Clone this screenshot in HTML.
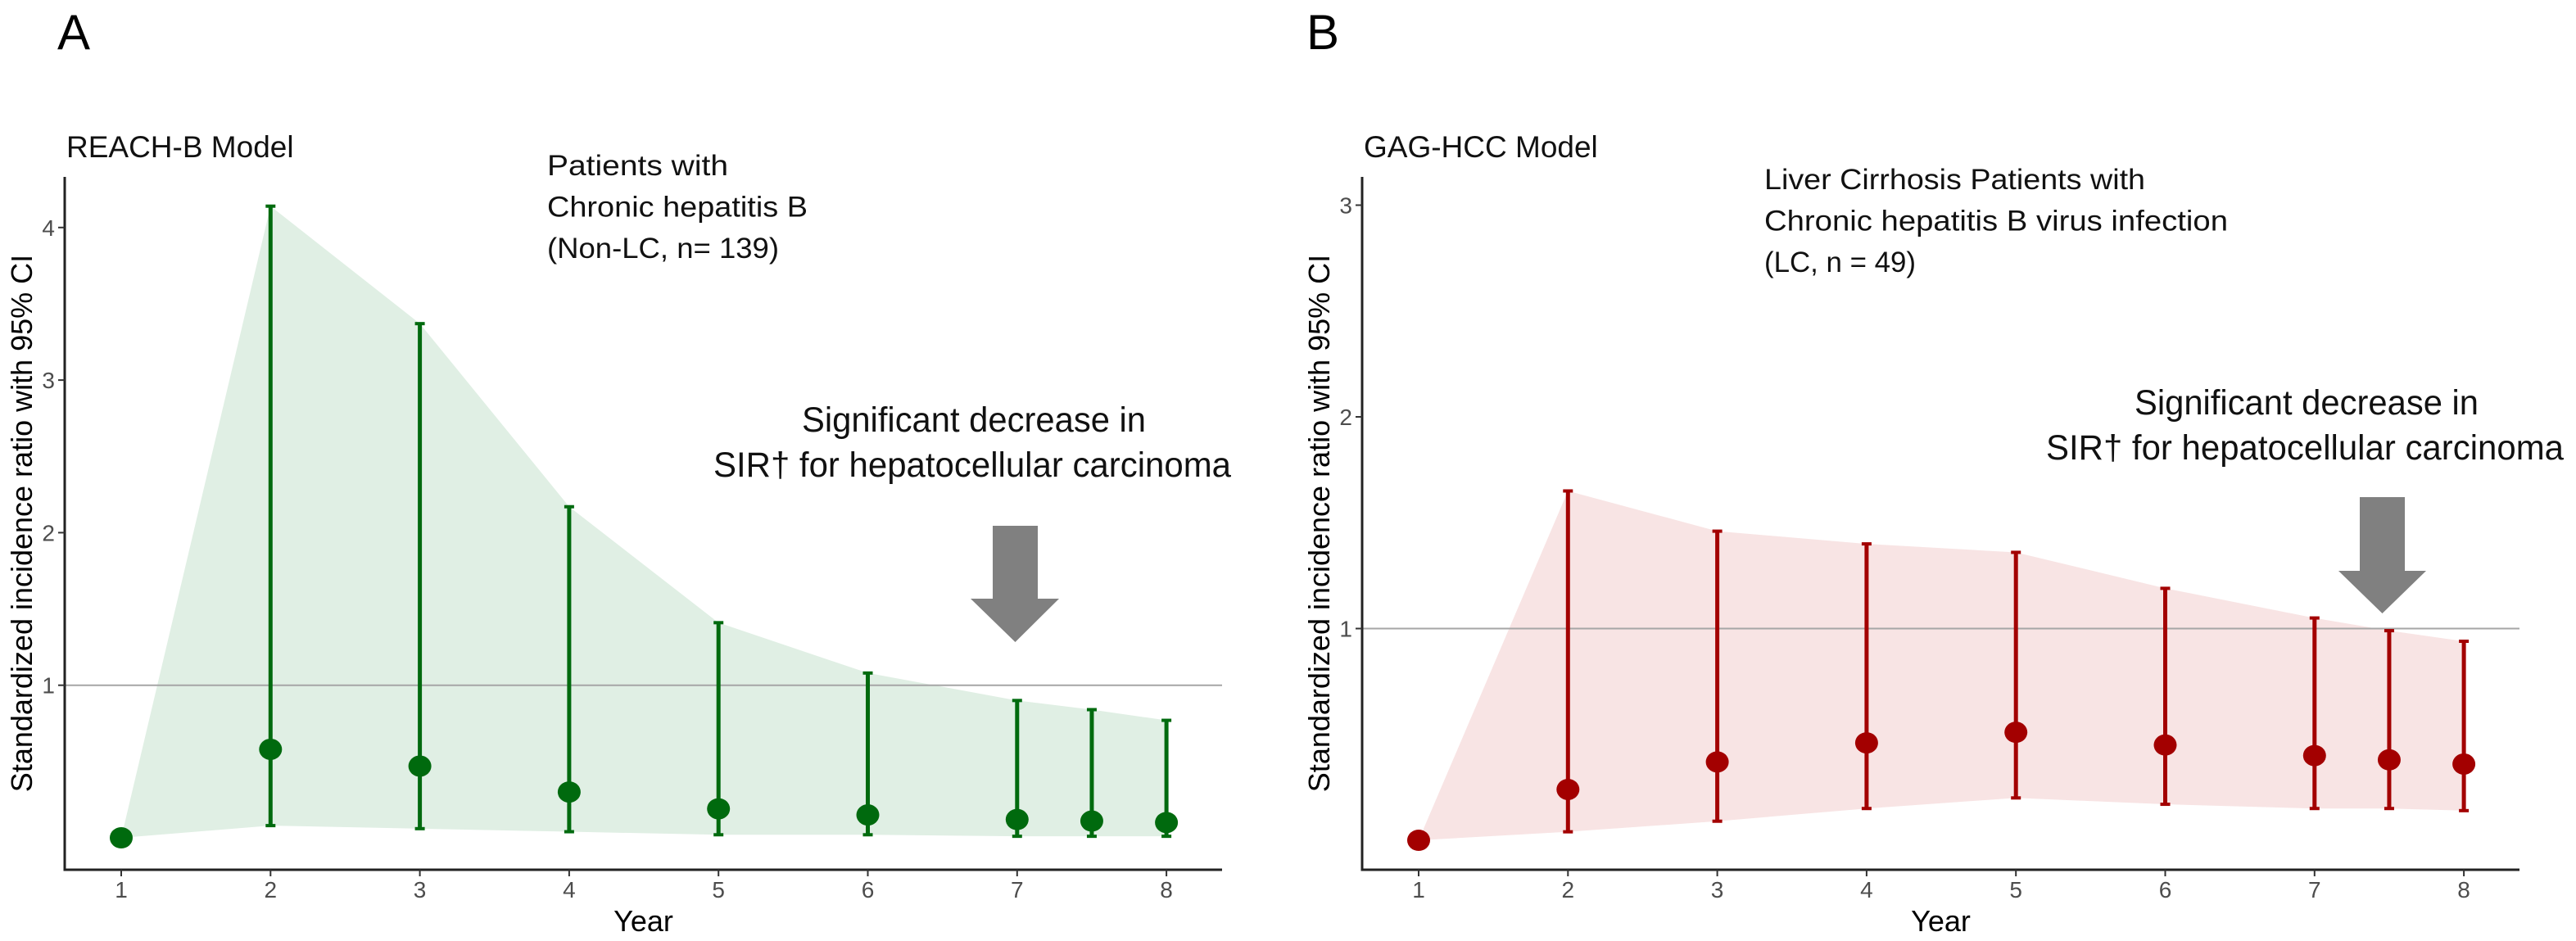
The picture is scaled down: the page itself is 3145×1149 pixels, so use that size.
<!DOCTYPE html>
<html><head><meta charset="utf-8"><style>
html,body{margin:0;padding:0;background:#fff;}
svg{display:block;font-family:"Liberation Sans",sans-serif;}
</style></head><body>
<svg id="fig" width="3145" height="1149" viewBox="0 0 3145 1149" xmlns="http://www.w3.org/2000/svg"></svg>
<script>
const years = [1,2,3,4,5,6,7,7.5,8];
const sirA = [0,0.58,0.47,0.30,0.19,0.15,0.12,0.11,0.10];
const upA = [0,4.14,3.37,2.17,1.41,1.08,0.90,0.84,0.77];
const loA = [0,0.08,0.06,0.04,0.02,0.02,0.01,0.01,0.01];
const sirB = [0,0.24,0.37,0.46,0.51,0.45,0.40,0.38,0.36];
const upB = [0,1.65,1.46,1.40,1.36,1.19,1.05,0.99,0.94];
const loB = [0,0.04,0.09,0.15,0.20,0.17,0.15,0.15,0.14];
const xTicks = [1,2,3,4,5,6,7,8];
const yTicksA = [1,2,3,4];
const yTicksB = [1,2,3];

const NS="http://www.w3.org/2000/svg";
const svg=document.getElementById('fig');
function mk(tag,attrs,parent,text){const e=document.createElementNS(NS,tag);for(const k in attrs)e.setAttribute(k,attrs[k]);if(text!==undefined)e.textContent=text;(parent||svg).appendChild(e);return e;}

function panel(cfg){
  const g=mk('g',{});
  
  
  const xs=v=>cfg.x1+(v-1)*182.3;
  const ys=v=>cfg.y0-v*cfg.ppu;
  let pts=years.map((y,i)=>xs(y)+','+ys(cfg.up[i]));
  for(let i=years.length-1;i>=0;i--)pts.push(xs(years[i])+','+ys(cfg.lo[i]));
  const band=mk('polygon',{points:pts.join(' '),fill:cfg.band},g);
  
  
  const ref=mk('line',{x1:cfg.ax,x2:cfg.axEnd,y1:ys(1),y2:ys(1),stroke:'#a6a6a6','stroke-width':2},g);
  
  
  years.forEach((yr,i)=>{
    const x=xs(yr);
    if(cfg.up[i]>cfg.lo[i]){
      const eb=mk('g',{},g);
      
      
      mk('line',{x1:x,x2:x,y1:ys(cfg.up[i]),y2:ys(cfg.lo[i]),stroke:cfg.color,'stroke-width':5},eb);
      mk('line',{x1:x-6,x2:x+6,y1:ys(cfg.up[i]),y2:ys(cfg.up[i]),stroke:cfg.color,'stroke-width':4},eb);
      mk('line',{x1:x-6,x2:x+6,y1:ys(cfg.lo[i]),y2:ys(cfg.lo[i]),stroke:cfg.color,'stroke-width':4},eb);
    }
    const p=mk('ellipse',{cx:x,cy:ys(cfg.sir[i]),rx:14,ry:13,fill:cfg.color},g);
    
    
  });
  const ax=mk('path',{d:`M${cfg.ax},216 V1062 H${cfg.axEnd}`,fill:'none',stroke:'#222','stroke-width':3},g);
  
  
  cfg.yt.forEach(t=>{
    mk('line',{x1:cfg.ax-8,x2:cfg.ax,y1:ys(t),y2:ys(t),stroke:'#333','stroke-width':2},g);
    const l=mk('text',{x:cfg.ax-12,y:ys(t)+10,'text-anchor':'end','font-size':28,fill:'#4d4d4d'},g,String(t));
    
    
  });
  xTicks.forEach(t=>{
    mk('line',{x1:xs(t),x2:xs(t),y1:1062,y2:1070,stroke:'#333','stroke-width':2},g);
    const l=mk('text',{x:xs(t),y:1096,'text-anchor':'middle','font-size':28,fill:'#4d4d4d'},g,String(t));
    
    
  });
  const xt=mk('text',{x:(cfg.ax+cfg.axEnd)/2,y:1137,'text-anchor':'middle','font-size':36,fill:'#000'},g,'Year');
  
  
  const yt=mk('text',{x:0,y:0,transform:`translate(${cfg.ax-40},639) rotate(-90)`,'text-anchor':'middle','font-size':36,fill:'#000'},g,'Standardized incidence ratio with 95% CI');
  
  
  const ti=mk('text',{x:cfg.ax+2,y:192,'font-size':37,fill:'#111'},g,cfg.title);
  
  
  const lab=mk('text',{x:cfg.labX,y:60,'font-size':60,fill:'#000'},g,cfg.label);
  
  
  const sub=mk('text',{'font-size':35,fill:'#111'},g);
  
  
  cfg.sub.forEach((s,i)=>mk('tspan',{x:cfg.subX,y:cfg.subY+i*50.5,textLength:cfg.subW[i],lengthAdjust:'spacingAndGlyphs'},sub,s));
  const ann=mk('text',{'font-size':43,fill:'#111'},g);
  
  
  mk('tspan',{x:cfg.annX-210,y:cfg.annY,textLength:420,lengthAdjust:'spacingAndGlyphs'},ann,'Significant decrease in');
  mk('tspan',{x:cfg.annX-318,y:cfg.annY+55,textLength:632,lengthAdjust:'spacingAndGlyphs'},ann,'SIR\u2020 for hepatocellular carcinoma');
  const a=cfg.arrow;
  const arr=mk('polygon',{points:`${a.l},${a.top} ${a.r},${a.top} ${a.r},${a.sh} ${a.hr},${a.sh} ${(a.l+a.r)/2},${a.tip} ${a.hl},${a.sh} ${a.l},${a.sh}`,fill:'#808080'},g);
  
  
}

panel({name:'panel-a-reach-b',x1:148,ax:79,axEnd:1492,y0:1023,ppu:186.3,up:upA,lo:loA,sir:sirA,yt:yTicksA,
  color:'#006a0e',band:'#e0efe4',title:'REACH-B Model',label:'A',labX:70,
  sub:['Patients with','Chronic hepatitis B','(Non-LC, n= 139)'],subW:[221,318,283],subX:668,subY:214,
  annX:1189,annY:527,arrow:{l:1212,r:1267,top:642,sh:731,hl:1185,hr:1293,tip:784}});
panel({name:'panel-b-gag-hcc',x1:1732,ax:1663,axEnd:3076,y0:1026,ppu:258.5,up:upB,lo:loB,sir:sirB,yt:yTicksB,
  color:'#a30000',band:'#f8e4e4',title:'GAG-HCC Model',label:'B',labX:1595,
  sub:['Liver Cirrhosis Patients with','Chronic hepatitis B virus infection','(LC, n = 49)'],subW:[465,566,185],subX:2154,subY:231,
  annX:2816,annY:506,arrow:{l:2881,r:2936,top:607,sh:697,hl:2855,hr:2962,tip:749}});
</script>
</body></html>
